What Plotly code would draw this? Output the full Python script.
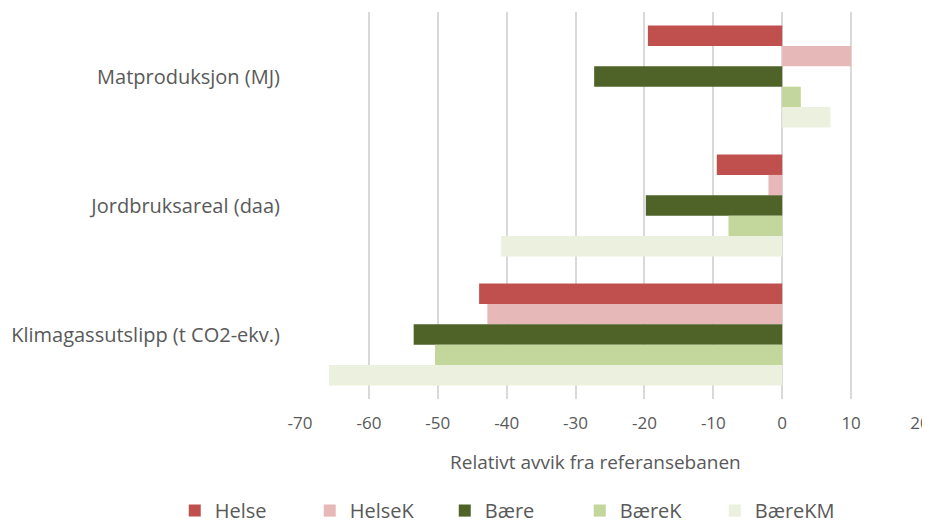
import plotly.graph_objects as go

categories = ["Matproduksjon (MJ)", "Jordbruksareal (daa)", "Klimagassutslipp (t CO2-ekv.)"]
series_names = ["Helse", "HelseK", "Bære", "BæreK", "BæreKM"]
helse = [-19.5, -9.5, -44.0]
helsek = [10.0, -2.0, -42.8]
baere = [-27.3, -19.8, -53.5]
baerek = [2.7, -7.8, -50.4]
baerekm = [7.0, -40.8, -65.8]
tick_vals = [-70, -60, -50, -40, -30, -20, -10, 0, 10, 20]
tick_text = ["-70", "-60", "-50", "-40", "-30", "-20", "-10", "0", "10", "20"]
x_title = "Relativt avvik fra referansebanen"

values = [helse, helsek, baere, baerek, baerekm]
colors = ["#C0504D", "#E6B9B8", "#4F6228", "#C3D69B", "#EBF1DE"]

fig = go.Figure()
for name, vals, col in zip(series_names, values, colors):
    fig.add_trace(go.Bar(y=categories, x=vals, name=name, orientation="h",
                         marker=dict(color=col, line=dict(width=0))))

font_family = "Open Sans, Liberation Sans, sans-serif"
fig.update_layout(
    width=930, height=525,
    barmode="group", bargap=0.21, bargroupgap=0,
    plot_bgcolor="white", paper_bgcolor="white",
    margin=dict(l=292, r=18, t=4, b=134, autoexpand=False),
    font=dict(family=font_family, color="#595959", size=16),
    xaxis=dict(range=[-70, 20], tickvals=tick_vals, ticktext=tick_text, showgrid=True,
               gridcolor="#D9D9D9", gridwidth=1.5, zeroline=True, zerolinecolor="#D9D9D9",
               zerolinewidth=1.5, showline=False, ticks="", ticklabelstandoff=12,
               tickfont=dict(size=17, color="#595959"), automargin=False),
    yaxis=dict(autorange="reversed", showgrid=False, showline=False, ticks="",
               tickfont=dict(size=20, color="#595959"), ticklabelstandoff=19, automargin=False),
    legend=dict(orientation="h", xref="paper", yref="paper", x=-0.202, y=-0.238,
                xanchor="left", yanchor="top", entrywidth=90, entrywidthmode="pixels",
                font=dict(size=20, color="#595959"), traceorder="normal"),
    annotations=[dict(text=x_title, xref="paper", yref="paper", x=0.476, y=0,
                      xanchor="center", yanchor="middle", yshift=-63, showarrow=False,
                      font=dict(size=19, color="#595959"))],
)

fig.write_html("out.html")
